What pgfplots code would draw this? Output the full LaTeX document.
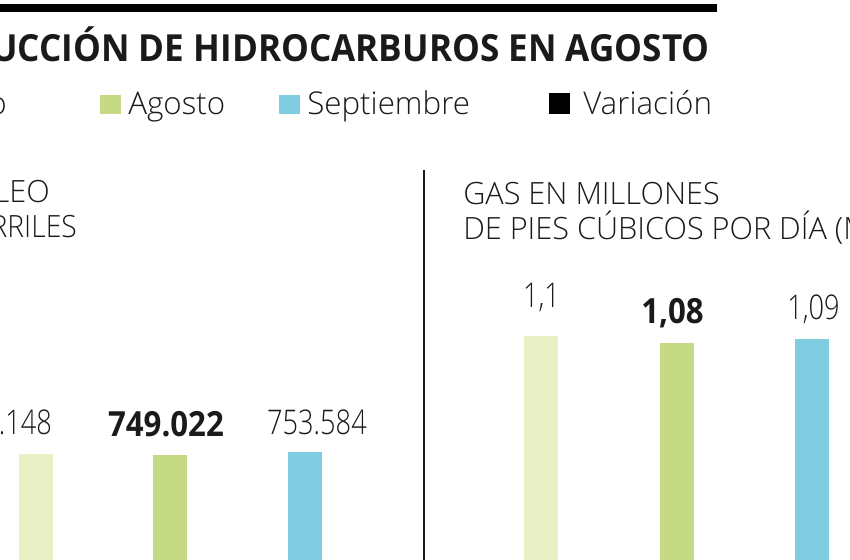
\documentclass[border=0pt]{standalone}
\usepackage{pgfplots}
\pgfplotsset{compat=1.18}
\usepackage{fontspec}
\setmainfont{Open Sans}
\newfontfamily\lightf{Open Sans Light}
\newfontfamily\lightc[FakeStretch=0.8]{Open Sans Light}
\newfontfamily\lightm[FakeStretch=0.92]{Open Sans Light}
\newfontfamily\boldc[FakeStretch=0.9]{Open Sans}
\newfontfamily\titlef[FakeStretch=0.94]{Open Sans}
\definecolor{cjul}{HTML}{E9F0C5}
\definecolor{cago}{HTML}{C6D985}
\definecolor{csep}{HTML}{80CDE1}
\definecolor{ink}{HTML}{1A1A1A}
\begin{document}
\begin{tikzpicture}[x=0.75pt,y=0.75pt]
\useasboundingbox (0,0) rectangle (850,560);
\clip (0,0) rectangle (850,560);
\fill[black] (0,548) rectangle (717,556);
\node[anchor=base east, inner sep=0, text=ink, font=\titlef\bfseries\fontsize{28}{32}\selectfont] at (710,498) {PRODUCCIÓN DE HIDROCARBUROS EN AGOSTO};
% legend
\begin{scope}[every node/.style={anchor=base west, inner sep=0, text=ink, font=\lightf\fontsize{23.5}{27}\selectfont}]
\node[anchor=base east] at (7,445) {Julio};
\fill[cago] (100,446) rectangle (121,465);
\node at (128,445) {Agosto};
\fill[csep] (279,446) rectangle (300,465);
\node at (307,445) {Septiembre};
\fill[black] (549,446) rectangle (570,467);
\node at (583,445) {Variación};
\end{scope}
% divider
\draw[line width=1.5pt, ink] (424,0) -- (424,390);
% panel titles
\begin{scope}[every node/.style={inner sep=0, text=ink, font=\lightf\fontsize{23}{27}\selectfont}]
\node[anchor=base east] at (50,357) {PETRÓLEO};
\node[anchor=base east, font=\lightm\fontsize{23}{27}\selectfont] at (77,322) {EN BARRILES};
\node[anchor=base west] at (463,355) {GAS EN MILLONES};
\node[anchor=base west] at (463,320) {DE PIES CÚBICOS POR DÍA (MPCD)};
\end{scope}
% oil
\begin{axis}[at={(0pt,0pt)}, anchor=south west, scale only axis, width=318pt, height=420pt,
  xmin=-0.263, xmax=2.878, ymin=556.6, ymax=1578.5, axis lines=none,
  ybar, bar width=25.5pt, bar shift=0pt,
  every node near coord/.append style={anchor=base, inner sep=0, text=ink}]
\addplot[fill=cjul, draw=none, nodes near coords={749.148},
  every node near coord/.append style={yshift=15pt, xshift=-25pt, font=\lightc\fontsize{25.5}{30}\selectfont}] coordinates {(0,749.148)};
\addplot[fill=cago, draw=none, nodes near coords={749.022},
  every node near coord/.append style={yshift=13.5pt, xshift=-3.4pt, font=\boldc\bfseries\fontsize{26}{30}\selectfont}] coordinates {(1,749.022)};
\addplot[fill=csep, draw=none, nodes near coords={753.584},
  every node near coord/.append style={yshift=13.5pt, xshift=8.6pt, font=\lightc\fontsize{25.5}{30}\selectfont}] coordinates {(2,753.584)};
\end{axis}
% gas
\begin{axis}[at={(318pt,0pt)}, anchor=south west, scale only axis, width=319.5pt, height=420pt,
  xmin=-0.870, xmax=2.285, ymin=0.46, ymax=2.06, axis lines=none,
  ybar, bar width=25.5pt, bar shift=0pt,
  every node near coord/.append style={anchor=base, inner sep=0, text=ink}]
\addplot[fill=cjul, draw=none, nodes near coords={1,1},
  every node near coord/.append style={yshift=21pt, xshift=0pt, font=\lightc\fontsize{25.5}{30}\selectfont}] coordinates {(0,1.1)};
\addplot[fill=cago, draw=none, nodes near coords={1,08},
  every node near coord/.append style={yshift=14.25pt, xshift=-3pt, font=\boldc\bfseries\fontsize{26}{30}\selectfont}] coordinates {(1,1.08)};
\addplot[fill=csep, draw=none, nodes near coords={1,09},
  every node near coord/.append style={yshift=15pt, xshift=1.5pt, font=\lightc\fontsize{25.5}{30}\selectfont}] coordinates {(2,1.09)};
\end{axis}
\end{tikzpicture}
\end{document}
